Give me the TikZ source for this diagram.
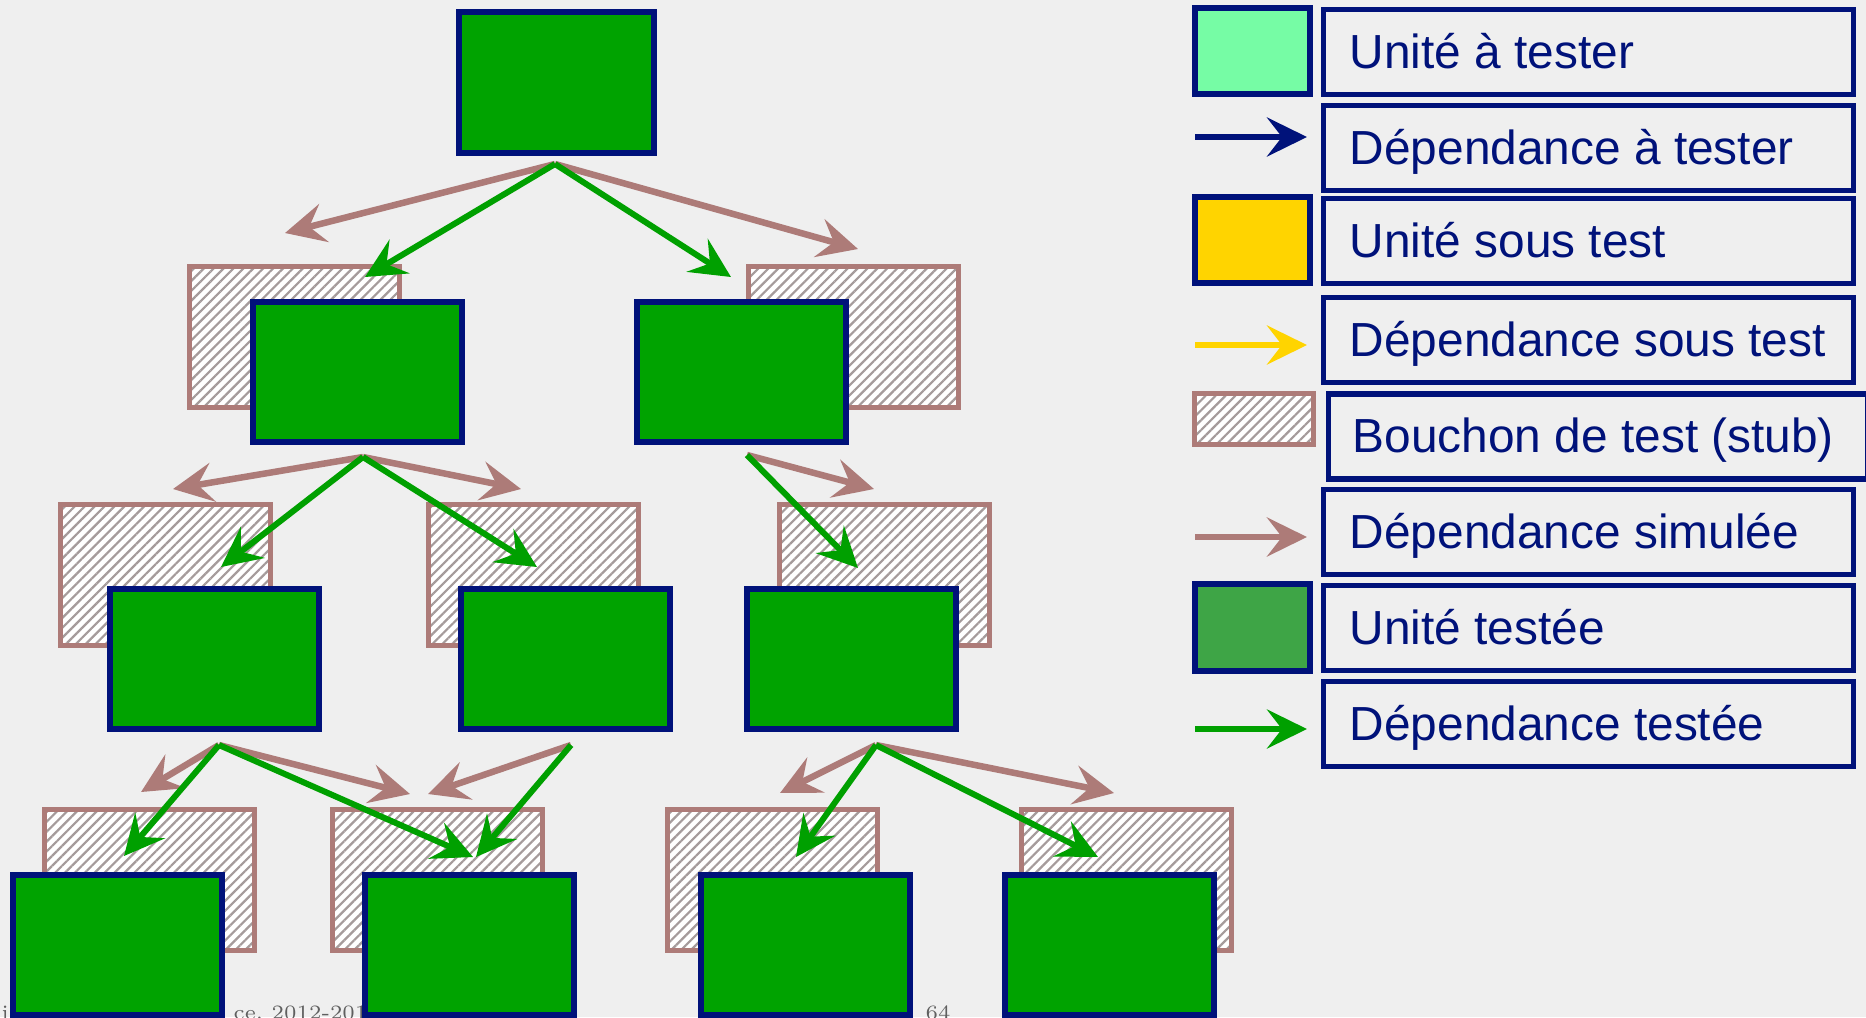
\documentclass[tikz,border=0pt]{standalone}
\usepackage{fontspec}
\newfontfamily\legfont{Liberation Sans}
\usepackage{tikz}
\usetikzlibrary{arrows.meta,patterns.meta}
\definecolor{navy}{RGB}{0,18,122}
\definecolor{ugreen}{RGB}{0,163,0}
\definecolor{tgreen}{RGB}{0,160,0}
\definecolor{simc}{RGB}{173,123,120}
\definecolor{mint}{RGB}{118,252,165}
\definecolor{yellowc}{RGB}{255,212,0}
\definecolor{lgreen}{RGB}{62,165,70}
\definecolor{paper}{RGB}{239,239,239}
\definecolor{hatchc}{RGB}{165,155,155}
\definecolor{footc}{RGB}{95,95,95}
\tikzset{
  unit/.style={rectangle,draw=navy,fill=ugreen,line width=0.6mm,minimum width=2.09cm,minimum height=1.40cm,inner sep=0pt},
  stubbox/.style={rectangle,draw=simc,line width=0.5mm,preaction={fill=white},pattern={Lines[angle=45,distance=0.7mm,line width=0.22mm]},pattern color=hatchc,minimum width=2.10cm,minimum height=1.41cm,inner sep=0pt},
  sim/.style={-{Stealth[length=4mm,width=3.9mm,inset=1.5mm]},line width=0.65mm,simc},
  tst/.style={-{Stealth[length=4mm,width=3.9mm,inset=1.5mm]},line width=0.6mm,tgreen},
  dep/.style={-{Stealth[length=4mm,width=3.9mm,inset=1.5mm]},line width=0.6mm,navy},
  sous/.style={-{Stealth[length=4mm,width=3.9mm,inset=1.5mm]},line width=0.6mm,yellowc},
  legbox/.style={rectangle,draw=navy,line width=0.55mm,minimum width=5.30cm,minimum height=0.85cm,inner sep=0pt},
  swatch/.style={rectangle,draw=navy,line width=0.6mm,minimum width=1.15cm,minimum height=0.86cm,inner sep=0pt},
  legtext/.style={anchor=base west,inner sep=0pt,text=navy,font=\legfont\fontsize{13.6}{16}\selectfont},
  foot/.style={anchor=base west,inner sep=0pt,text=footc,font=\fontsize{5.8}{7}\selectfont},
}
\begin{document}
\begin{tikzpicture}[x=0.01cm,y=-0.01cm]
  \useasboundingbox (0,0) rectangle (1866,1017);
  \clip (0,0) rectangle (1866,1017);
  \fill[paper] (0,0) rectangle (1866,1017);
  % footer, mostly hidden
  \node[foot] (f1) at (1,1019) {i};
  \node[foot] (f2) at (233,1019) {ce, 2012-201};
  \node[foot] (f3) at (925,1019) {64};
  % stubs
  \node[stubbox] (s21) at (294.5,337) {};
  \node[stubbox] (s22) at (853.5,337) {};
  \node[stubbox] (s31) at (165.5,575) {};
  \node[stubbox] (s32) at (533.5,575) {};
  \node[stubbox] (s33) at (884.5,575) {};
  \node[stubbox] (s41) at (149.5,880) {};
  \node[stubbox] (s42) at (437.5,880) {};
  \node[stubbox] (s43) at (772.5,880) {};
  \node[stubbox] (s44) at (1126.5,880) {};
  % units
  \node[unit,minimum width=1.95cm,minimum height=1.41cm] (T) at (556.5,82.5) {};
  \node[unit] (u21) at (357.5,372) {};
  \node[unit] (u22) at (741.5,372) {};
  \node[unit] (u31) at (214.5,659) {};
  \node[unit] (u32) at (565.5,659) {};
  \node[unit] (u33) at (851.5,659) {};
  \node[unit] (u41) at (117.5,945) {};
  \node[unit] (u42) at (469.5,945) {};
  \node[unit] (u43) at (805.5,945) {};
  \node[unit] (u44) at (1109.5,945) {};
  % arrow roots and tips
  \coordinate (a1) at (555,164);
  \coordinate (a21) at (363,457);
  \coordinate (a22) at (747,455);
  \coordinate (a31) at (219,745);
  \coordinate (a32) at (571,745);
  \coordinate (a33) at (876,745);
  \coordinate (b1l) at (285,233);
  \coordinate (b1r) at (858,249);
  \coordinate (g1l) at (365,277);
  \coordinate (g1r) at (731,277);
  \coordinate (b21l) at (173,489);
  \coordinate (b21r) at (521,489);
  \coordinate (g21l) at (221,567);
  \coordinate (g21r) at (537,567);
  \coordinate (b22) at (874,489);
  \coordinate (g22) at (858,568);
  \coordinate (b31l) at (141,792);
  \coordinate (b31r) at (410,794);
  \coordinate (g31l) at (124,856);
  \coordinate (g31r) at (473,857);
  \coordinate (b32) at (428,794);
  \coordinate (g32) at (476,857);
  \coordinate (b33l) at (780,793);
  \coordinate (b33r) at (1114,793);
  \coordinate (g33l) at (796,857);
  \coordinate (g33r) at (1098,857);
  % simulated dependencies
  \draw[sim] (a1) -- (b1l);
  \draw[sim] (a1) -- (b1r);
  \draw[sim] (a21) -- (b21l);
  \draw[sim] (a21) -- (b21r);
  \draw[sim] (a22) -- (b22);
  \draw[sim] (a31) -- (b31l);
  \draw[sim] (a31) -- (b31r);
  \draw[sim] (a32) -- (b32);
  \draw[sim] (a33) -- (b33l);
  \draw[sim] (a33) -- (b33r);
  % tested dependencies
  \draw[tst] (a1) -- (g1l);
  \draw[tst] (a1) -- (g1r);
  \draw[tst] (a21) -- (g21l);
  \draw[tst] (a21) -- (g21r);
  \draw[tst] (a22) -- (g22);
  \draw[tst] (a31) -- (g31l);
  \draw[tst] (a31) -- (g31r);
  \draw[tst] (a32) -- (g32);
  \draw[tst] (a33) -- (g33l);
  \draw[tst] (a33) -- (g33r);
  % legend
  \node[swatch,fill=mint] (k1) at (1252.5,51) {};
  \node[legbox] (l1) at (1588.5,52) {};
  \node[legtext] (t1) at (1349,68) {Unité à tester};
  \coordinate (k2a) at (1195,137);
  \coordinate (k2b) at (1307,137);
  \draw[dep] (k2a) -- (k2b);
  \node[legbox] (l2) at (1588.5,148) {};
  \node[legtext] (t2) at (1349,164) {Dépendance à tester};
  \node[swatch,fill=yellowc] (k3) at (1252.5,240) {};
  \node[legbox] (l3) at (1588.5,241) {};
  \node[legtext] (t3) at (1349,257) {Unité sous test};
  \coordinate (k4a) at (1195,345);
  \coordinate (k4b) at (1307,345);
  \draw[sous] (k4a) -- (k4b);
  \node[legbox] (l4) at (1588.5,340) {};
  \node[legtext] (t4) at (1349,356) {Dépendance sous test};
  \node[stubbox,minimum width=1.19cm,minimum height=0.51cm] (k5) at (1254,419) {};
  \node[legbox,minimum width=5.39cm] (l5) at (1598,436.5) {};
  \node[legtext] (t5) at (1352,452) {Bouchon de test (stub)};
  \coordinate (k6a) at (1195,537);
  \coordinate (k6b) at (1307,537);
  \draw[sim] (k6a) -- (k6b);
  \node[legbox] (l6) at (1588.5,532) {};
  \node[legtext] (t6) at (1349,548) {Dépendance simulée};
  \node[swatch,fill=lgreen] (k7) at (1252.5,627.5) {};
  \node[legbox] (l7) at (1588.5,628) {};
  \node[legtext] (t7) at (1349,644) {Unité testée};
  \coordinate (k8a) at (1195,729);
  \coordinate (k8b) at (1307,729);
  \draw[tst] (k8a) -- (k8b);
  \node[legbox] (l8) at (1588.5,724) {};
  \node[legtext] (t8) at (1349,740) {Dépendance testée};
\end{tikzpicture}
\end{document}
